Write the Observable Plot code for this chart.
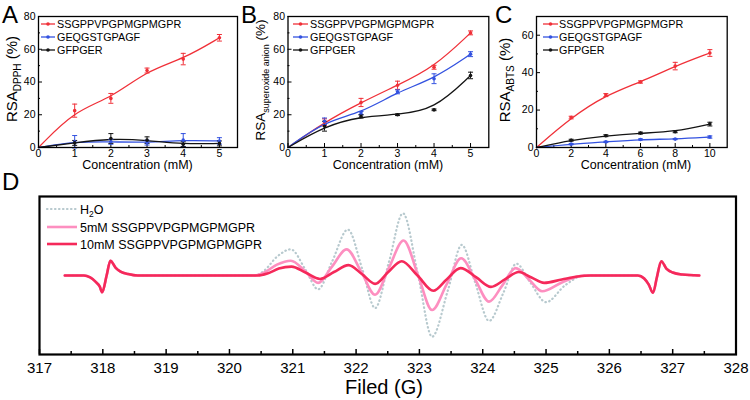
<!DOCTYPE html>
<html><head><meta charset="utf-8">
<script src="https://cdn.jsdelivr.net/npm/d3@7"></script>
<script src="https://cdn.jsdelivr.net/npm/@observablehq/plot@0.6"></script>
<style>
body{margin:0;background:#fff;}
#wrap{position:relative;width:750px;height:400px;overflow:hidden;}
#wrap > svg{position:absolute;}
</style></head><body><div id="wrap"></div>
<script>
// ---------- data ----------
const seriesNames = ["SSGPPVPGPMGPMGPR", "GEQGSTGPAGF", "GFPGER"];
const seriesColors = ["#f03038", "#3352e0", "#141414"];

const concAB = [0, 1, 2, 3, 4, 5];
const concC = [0, 2, 4, 6, 8, 10];

const dpphRed = [0, 22.5, 30, 47, 54, 67];
const dpphRedErr = [0, 4, 3, 1.5, 3.5, 2];
const dpphBlue = [0, 3.5, 3.5, 3.0, 4.5, 4.0];
const dpphBlueErr = [0, 3.8, 1.5, 1.5, 4, 2];
const dpphBlack = [0, 2.8, 5.5, 4.5, 2.0, 2.5];
const dpphBlackErr = [0, 1.5, 3, 2, 1.5, 1.5];

const supRed = [0, 15.5, 27.5, 38, 49, 70];
const supRedErr = [0, 2, 2.5, 2.5, 1.2, 1.2];
const supBlue = [0, 16, 21, 34, 42, 57];
const supBlueErr = [0, 2, 1, 1.2, 3, 1.5];
const supBlack = [0, 13, 19, 20, 23, 44];
const supBlackErr = [0, 3, 1, 0.5, 0.5, 2];

const abtsRed = [0, 16, 28, 35, 43.5, 50.5];
const abtsRedErr = [0, 0.7, 0.8, 0.6, 2, 1.8];
const abtsBlue = [0, 1.8, 3, 4.3, 4.5, 5.6];
const abtsBlueErr = [0, 0.3, 0.3, 0.3, 0.3, 0.6];
const abtsBlack = [0, 3.9, 6.3, 7.7, 8.4, 12.5];
const abtsBlackErr = [0, 0.5, 0.5, 0.5, 0.5, 1];

const ticksABx = [0, 1, 2, 3, 4, 5];
const minorABx = [0.5, 1.5, 2.5, 3.5, 4.5];
const ticksABy = [0, 20, 40, 60, 80];
const minorABy = [10, 30, 50, 70];
const ticksCx = [0, 2, 4, 6, 8, 10];
const minorCx = [1, 3, 5, 7, 9];
const ticksCy = [0, 20, 40, 60];
const minorCy = [10, 30, 50];

// Panel D: EPR spectra [field (G), intensity (a.u.)]
const epsNames = ["H2O", "5mM SSGPPVPGPMGPMGPR", "10mM SSGPPVPGPMGPMGPR"];
const epsColors = ["#b7c9ce", "#fd8fc0", "#f5295a"];
const ticksD = [317, 318, 319, 320, 321, 322, 323, 324, 325, 326, 327, 328];
const minorD = [317.5, 318.5, 319.5, 320.5, 321.5, 322.5, 323.5, 324.5, 325.5, 326.5, 327.5];
const dLeftMarker = [[317.4,0],[317.7,0],[317.8,-2],[317.88,-6],[317.95,-11],[317.99,-17],[318.06,0],[318.12,15],[318.2,8],[318.28,4],[318.4,1.5],[318.55,0]];
const dRightMarker = [[326.45,0],[326.55,-3],[326.62,-9],[326.69,-17.5],[326.75,-2],[326.82,14.5],[326.9,7],[327.0,3],[327.15,1],[327.42,0]];
const h2oCore = [[320.4,0],[320.55,5],[320.75,19],[320.97,26.5],[321.2,6],[321.4,-14],[321.62,14],[321.87,46.5],[322.1,6],[322.3,-33],[322.52,14],[322.74,63],[322.98,0],[323.2,-62],[323.45,-15],[323.67,31],[323.88,-7],[324.1,-46],[324.33,-17],[324.53,12],[324.75,-7],[325.0,-27],[325.3,-10],[325.6,0]];
const mM5Core = [[320.4,0],[320.55,3],[320.75,11],[320.97,15],[321.2,4],[321.4,-7.5],[321.62,9],[321.85,26.5],[322.08,4],[322.3,-19.5],[322.52,8],[322.75,35.5],[322.98,0],[323.2,-35],[323.43,-9],[323.66,17.5],[323.88,-4],[324.1,-26.5],[324.31,-10],[324.52,7.5],[324.73,-4],[324.94,-16],[325.25,-7],[325.6,0]];
const mM10Core = [[320.45,0],[320.6,2],[320.78,7],[320.98,9],[321.2,3],[321.43,-3.5],[321.65,3.5],[321.88,10.5],[322.1,1],[322.3,-8.5],[322.5,3],[322.72,14.5],[322.97,0],[323.22,-15.5],[323.43,-4],[323.65,7.5],[323.9,-2],[324.13,-11.5],[324.35,-4],[324.57,3.5],[324.77,-2],[324.97,-7.5],[325.25,-4],[325.5,-1],[325.7,0]];

// ---------- drawing ----------
const FONT = '"Liberation Sans", Arial, Helvetica, sans-serif';
const wrap = document.getElementById("wrap");
const capSymbol = {draw(ctx, size) { const w = Math.sqrt(size / Math.PI); ctx.moveTo(-w, 0); ctx.lineTo(w, 0); }};

function panel(opt) {
  const H = 165, top = 16, bottom = 147;
  const innerW = opt.width - opt.ml - opt.mr, innerH = bottom - top;
  const rows = [];
  opt.series.forEach((sr, i) => sr.y.forEach((v, j) => rows.push({x: opt.xs[j], y: v, e: sr.e[j], s: seriesNames[i]})));
  const withErr = rows.filter(d => d.e > 0);
  const svg = Plot.plot({
    width: opt.width, height: H,
    marginLeft: opt.ml, marginRight: opt.mr, marginTop: top, marginBottom: H - bottom,
    style: {fontFamily: FONT, background: "transparent", color: "#000", overflow: "visible"},
    x: {domain: opt.xDomain, label: null},
    y: {domain: opt.yDomain, label: null},
    color: {domain: seriesNames, range: seriesColors},
    marks: [
      Plot.axisX(opt.xTicks, {tickSize: 0, tickPadding: 2, fontSize: 10.5, label: null}),
      Plot.axisY(opt.yTicks, {tickSize: 0, tickPadding: 3, fontSize: 10.5, label: null}),
      Plot.tickX(opt.xTicks, {x: d => d, insetTop: innerH - 4, strokeWidth: 1}),
      Plot.tickX(opt.xMinor, {x: d => d, insetTop: innerH - 2, strokeWidth: 1}),
      Plot.tickY(opt.yTicks, {y: d => d, insetRight: innerW - 4, strokeWidth: 1}),
      Plot.tickY(opt.yMinor, {y: d => d, insetRight: innerW - 2, strokeWidth: 1}),
      Plot.line(rows, {x: "x", y: "y", z: "s", stroke: "s", curve: "basis", strokeWidth: 1.3}),
      Plot.ruleX(withErr, {x: "x", y1: d => d.y - d.e, y2: d => d.y + d.e, stroke: "s", strokeWidth: 1}),
      Plot.dot(withErr, {x: "x", y: d => d.y - d.e, symbol: capSymbol, r: 2.5, stroke: "s", fill: "none", strokeWidth: 1}),
      Plot.dot(withErr, {x: "x", y: d => d.y + d.e, symbol: capSymbol, r: 2.5, stroke: "s", fill: "none", strokeWidth: 1}),
      Plot.dot(rows.filter(d => d.x > 0), {x: "x", y: "y", fill: "s", r: 1.8}),
      Plot.frame({stroke: "#000", strokeWidth: 1.3})
    ]
  });
  svg.style.left = opt.left + "px";
  svg.style.top = "0px";
  wrap.appendChild(svg);
}

panel({left: 0, width: 240, ml: 38, mr: 3, xs: concAB, xDomain: [0, 5.5], yDomain: [0, 80],
  xTicks: ticksABx, xMinor: minorABx, yTicks: ticksABy, yMinor: minorABy,
  series: [{y: dpphRed, e: dpphRedErr}, {y: dpphBlue, e: dpphBlueErr}, {y: dpphBlack, e: dpphBlackErr}]});
panel({left: 240, width: 250, ml: 47.5, mr: 1.7, xs: concAB, xDomain: [0, 5.5], yDomain: [0, 80],
  xTicks: ticksABx, xMinor: minorABx, yTicks: ticksABy, yMinor: minorABy,
  series: [{y: supRed, e: supRedErr}, {y: supBlue, e: supBlueErr}, {y: supBlack, e: supBlackErr}]});
panel({left: 490, width: 250, ml: 46, mr: 13.3, xs: concC, xDomain: [0, 11], yDomain: [0, 70],
  xTicks: ticksCx, xMinor: minorCx, yTicks: ticksCy, yMinor: minorCy,
  series: [{y: abtsRed, e: abtsRedErr}, {y: abtsBlue, e: abtsBlueErr}, {y: abtsBlack, e: abtsBlackErr}]});

// Panel D
{
  const H = 230, mt = 26, mb = 46;
  const innerH = H - mt - mb;
  const toRows = (arr, name) => arr.map(([x, y]) => ({x, y, s: name}));
  const spectra = [
    toRows([...dLeftMarker, ...h2oCore, ...dRightMarker], epsNames[0]),
    toRows([...dLeftMarker, ...mM5Core, ...dRightMarker], epsNames[1]),
    toRows([...dLeftMarker, ...mM10Core, ...dRightMarker], epsNames[2])
  ];
  const svg = Plot.plot({
    width: 750, height: H, marginLeft: 39, marginRight: 14.5, marginTop: mt, marginBottom: mb,
    style: {fontFamily: FONT, background: "transparent", color: "#000", overflow: "visible"},
    x: {domain: [317, 328], label: null},
    y: {domain: [-80, 80], axis: null, label: null},
    marks: [
      Plot.axisX(ticksD, {tickSize: 0, tickPadding: 8, fontSize: 15, label: null}),
      Plot.tickX(ticksD, {x: d => d, insetTop: innerH - 5, strokeWidth: 1.5}),
      Plot.tickX(minorD, {x: d => d, insetTop: innerH - 3, strokeWidth: 1.5}),
      Plot.line(spectra[0], {x: "x", y: "y", stroke: epsColors[0], strokeWidth: 2.2, strokeDasharray: "0.5 3.5", strokeLinecap: "round", curve: "monotone-x"}),
      Plot.line(spectra[1], {x: "x", y: "y", stroke: epsColors[1], strokeWidth: 2.6, curve: "monotone-x"}),
      Plot.line(spectra[2], {x: "x", y: "y", stroke: epsColors[2], strokeWidth: 2.6, curve: "monotone-x"}),
      Plot.frame({stroke: "#000", strokeWidth: 2.2})
    ]
  });
  svg.style.left = "0px";
  svg.style.top = "170px";
  wrap.appendChild(svg);
}

// ---------- overlay text: letters, titles, legends ----------
const ov = d3.select(wrap).append("svg").attr("width", 750).attr("height", 400)
  .style("left", "0px").style("top", "0px").style("font-family", FONT).attr("fill", "#000");

[["A", 2, 23], ["B", 241, 23], ["C", 495, 23], ["D", 2, 190]].forEach(([t, x, y]) =>
  ov.append("text").attr("x", x).attr("y", y).attr("font-size", 24).text(t));

[137.5, 388, 636].forEach(cx =>
  ov.append("text").attr("x", cx).attr("y", 169).attr("text-anchor", "middle").attr("font-size", 12.5).text("Concentration (mM)"));

function rotLabel(x, y, main, sub, size, subSize) {
  const t = ov.append("text").attr("transform", `translate(${x},${y}) rotate(-90)`).attr("text-anchor", "middle").attr("font-size", size);
  t.append("tspan").text("RSA");
  t.append("tspan").attr("font-size", subSize).attr("dy", 4).text(sub);
  t.append("tspan").attr("dy", -4).text(" (%)");
}
rotLabel(17, 79, "RSA", "DPPH", 15, 10);
rotLabel(265, 80, "RSA", "superoxide anion", 13.5, 9);
rotLabel(510, 80, "RSA", "ABTS", 15, 10);

[[41, 55, 57], [293, 308, 310], [543, 558, 559]].forEach(([x0, x1, tx]) => {
  [24, 37, 50].forEach((ry, i) => {
    ov.append("line").attr("x1", x0).attr("x2", x1).attr("y1", ry).attr("y2", ry).attr("stroke", seriesColors[i]).attr("stroke-width", 1.3);
    ov.append("circle").attr("cx", (x0 + x1) / 2).attr("cy", ry).attr("r", 1.8).attr("fill", seriesColors[i]);
    ov.append("text").attr("x", tx).attr("y", ry + 4).attr("font-size", 10.8).text(seriesNames[i]);
  });
});

// Panel D legend
[209, 227, 244].forEach((ry, i) => {
  const ln = ov.append("line").attr("x1", 47).attr("x2", 77).attr("y1", ry).attr("y2", ry).attr("stroke", epsColors[i]).attr("stroke-width", i === 0 ? 2.2 : 2.6);
  if (i === 0) ln.attr("stroke-dasharray", "0.5 3.5").attr("stroke-linecap", "round");
  const t = ov.append("text").attr("x", 80).attr("y", ry + 4.5).attr("font-size", 12.5);
  if (i === 0) {
    t.append("tspan").text("H");
    t.append("tspan").attr("font-size", 8.5).attr("dy", 3).text("2");
    t.append("tspan").attr("dy", -3).text("O");
  } else {
    t.text(epsNames[i]);
  }
});

ov.append("text").attr("x", 384).attr("y", 394).attr("text-anchor", "middle").attr("font-size", 20).text("Filed (G)");
</script></body></html>
